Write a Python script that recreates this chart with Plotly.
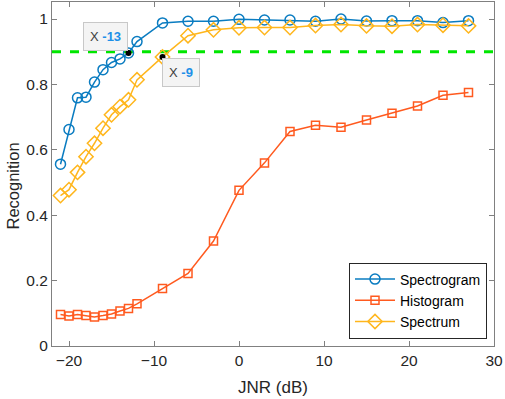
import plotly.graph_objects as go

jnr = [-21, -20, -19, -18, -17, -16, -15, -14, -13, -12, -9, -6, -3, 0, 3, 6, 9, 12, 15, 18, 21, 24, 27]
spectrogram = [0.556, 0.662, 0.759, 0.761, 0.807, 0.845, 0.867, 0.878, 0.896, 0.931, 0.988, 0.993, 0.993,
               0.999, 0.997, 0.997, 0.993, 1.0, 0.994, 0.995, 0.995, 0.989, 0.995]
histogram = [0.096, 0.092, 0.096, 0.093, 0.089, 0.093, 0.098, 0.107, 0.115, 0.129, 0.176, 0.222, 0.321,
             0.476, 0.560, 0.656, 0.675, 0.669, 0.691, 0.712, 0.734, 0.767, 0.775]
spectrum = [0.460, 0.478, 0.531, 0.579, 0.620, 0.666, 0.707, 0.732, 0.753, 0.814, 0.884, 0.949, 0.967,
            0.973, 0.974, 0.974, 0.980, 0.983, 0.979, 0.978, 0.983, 0.981, 0.979]
threshold = 0.9
tip_x = [-13, -9]
tip_y = [0.896, 0.884]
x_ticks = [-20, -10, 0, 10, 20, 30]
y_ticks = [0, 0.2, 0.4, 0.6, 0.8, 1]
y_ticktext = ["0", "0.2", "0.4", "0.6", "0.8", "1"]

c_blue = "#0A7CC1"
c_red = "#FF5A1F"
c_yel = "#FFB61C"
font = "Liberation Sans, Arial, sans-serif"

# plot area in pixels
L, R, T, B = 52, 494, 2, 346
W, H = R - L, B - T

fig = go.Figure()
fig.add_trace(go.Scatter(x=[-22, 30], y=[threshold, threshold], mode="lines",
                         line=dict(color="#00E600", width=3, dash="dash"), showlegend=False))
fig.add_trace(go.Scatter(x=jnr, y=spectrogram, name="Spectrogram", mode="lines+markers",
                         line=dict(color=c_blue, width=1.5),
                         marker=dict(symbol="circle-open", size=10, color=c_blue, line=dict(width=1.5))))
fig.add_trace(go.Scatter(x=jnr, y=histogram, name="Histogram", mode="lines+markers",
                         line=dict(color=c_red, width=1.5),
                         marker=dict(symbol="square-open", size=8, color=c_red, line=dict(width=1.5))))
fig.add_trace(go.Scatter(x=jnr, y=spectrum, name="Spectrum", mode="lines+markers",
                         line=dict(color=c_yel, width=1.5),
                         marker=dict(symbol="diamond-open", size=11, color=c_yel, line=dict(width=1.5))))
fig.add_trace(go.Scatter(x=tip_x, y=tip_y, mode="markers", showlegend=False,
                         marker=dict(color="black", size=6)))

# data tips
tip_pos = [(-15.7, 0.946), (-6.8, 0.836)]
for (ax_, ay_), xv in zip(tip_pos, tip_x):
    fig.add_annotation(x=ax_, y=ay_, xref="x", yref="y", showarrow=False,
                       text=f"X <span style='color:#1E90E8'><b>{xv}</b></span>",
                       font=dict(family=font, size=13, color="#404040"),
                       bgcolor="#F4F4F4", bordercolor="#C8C8C8", borderwidth=1, borderpad=6)

# axis titles (paper coords relative to plot area)
fig.add_annotation(x=(273 - L) / W, y=(B - 387) / H, xref="paper", yref="paper", showarrow=False,
                   text="JNR (dB)", font=dict(family=font, size=17, color="#262626"),
                   xanchor="center", yanchor="middle")
fig.add_annotation(x=(12.5 - L) / W, y=(B - 186) / H, xref="paper", yref="paper", showarrow=False,
                   text="Recognition", textangle=-90, font=dict(family=font, size=16.5, color="#262626"),
                   xanchor="center", yanchor="middle")

axis_common = dict(showline=True, linecolor="#808080", linewidth=1, mirror="ticks",
                   ticks="inside", ticklen=5, tickcolor="#808080", showgrid=False, zeroline=False,
                   ticklabeloverflow="allow",
                   tickfont=dict(family=font, size=15.5, color="#262626"))
fig.update_xaxes(range=[-22, 30], tickvals=x_ticks, **axis_common)
fig.update_yaxes(range=[0, 1.052], tickvals=y_ticks, ticktext=y_ticktext, **axis_common)
fig.update_layout(width=505, height=399, margin=dict(l=L, r=505 - R, t=T, b=399 - B),
                  plot_bgcolor="white", paper_bgcolor="white",
                  legend=dict(x=(487 - L) / W, y=(B - 338.5) / H, xanchor="right", yanchor="bottom",
                              bordercolor="#262626", borderwidth=1, bgcolor="white",
                              font=dict(family=font, size=14, color="#000000"),
                              tracegroupgap=0, itemwidth=40))
fig.write_html("out.html", config={"displayModeBar": False},
               post_script="document.body.style.margin='0';document.body.style.overflow='hidden';")
